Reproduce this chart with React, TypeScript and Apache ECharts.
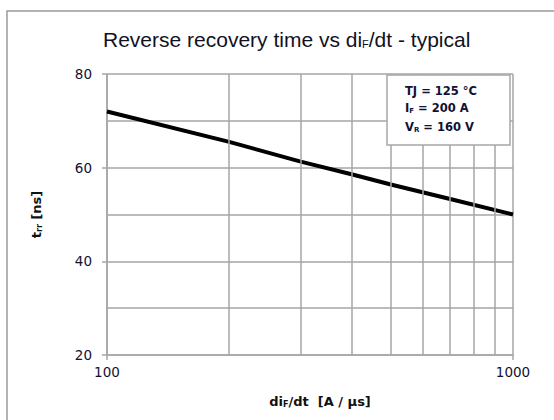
import React, { useEffect, useRef } from "react";
import * as echarts from "echarts";

const xValues = [100, 200, 300, 400, 500, 700, 1000];
const trrValues = [72, 65.5, 61.3, 58.6, 56.4, 53.3, 50];
const minorXGrid = [200, 300, 400, 500, 600, 700, 800, 900];
const xTickLabels = [100, 1000];
const yTickLabels = [20, 40, 60, 80];
const conditionLines = ["TJ = 125 °C", "I{s|F} = 200 A", "V{s|R} = 160 V"];

export default function App() {
  const ref = useRef<HTMLDivElement>(null);
  useEffect(() => {
    if (!ref.current) return;
    const chart = echarts.init(ref.current, null, { renderer: "svg" });
    const grey = "#a6a6a6";
    const font = "DejaVu Sans";
    chart.setOption({
      animation: false,
      backgroundColor: "#ffffff",
      title: {
        text: "Reverse recovery time vs di{s|F}/dt - typical",
        left: 98,
        top: 24,
        textStyle: {
          fontFamily: "Liberation Sans",
          fontSize: 21,
          fontWeight: "normal",
          color: "#111122",
          rich: {
            s: { fontFamily: "Liberation Sans", fontSize: 11, color: "#111122", padding: [9, 0, 0, 0] },
          },
        },
      },
      grid: { left: 107, right: 41, top: 74, bottom: 65, containLabel: false },
      xAxis: {
        type: "log",
        logBase: 10,
        min: 100,
        max: 1000,
        name: "di{s|F}/dt  [A / µs]",
        nameLocation: "middle",
        nameGap: 39,
        nameTextStyle: {
          fontFamily: font,
          fontSize: 13,
          fontWeight: "bold",
          color: "#111",
          padding: [0, 0, 0, 20],
          rich: { s: { fontFamily: font, fontSize: 8, fontWeight: "bold", color: "#111", padding: [6, 0, 0, 0] } },
        },
        axisLine: { show: true, lineStyle: { color: grey, width: 1.5 } },
        axisTick: { show: true, length: 5, lineStyle: { color: grey, width: 1.5 } },
        axisLabel: {
          margin: 10,
          fontFamily: font,
          fontSize: 13.5,
          color: "#111133",
          formatter: (v: number) => (xTickLabels.includes(Math.round(v)) ? String(Math.round(v)) : ""),
        },
        splitLine: { show: true, lineStyle: { color: grey, width: 1.5 } },
      },
      yAxis: {
        type: "value",
        min: 20,
        max: 80,
        interval: 20,
        name: "t{s|rr} [ns]",
        nameLocation: "middle",
        nameGap: 64,
        nameRotate: 90,
        nameTextStyle: {
          fontFamily: font,
          fontSize: 13,
          fontWeight: "bold",
          color: "#111",
          rich: { s: { fontFamily: font, fontSize: 8, fontWeight: "bold", color: "#111", padding: [6, 0, 0, 0] } },
        },
        axisLine: { show: true, lineStyle: { color: grey, width: 1.5 } },
        axisTick: { show: true, length: 5, lineStyle: { color: grey, width: 1.5 } },
        axisLabel: {
          margin: 15,
          fontFamily: font,
          fontSize: 13.5,
          color: "#111133",
          formatter: (v: number) => (yTickLabels.includes(v) ? String(v) : ""),
        },
        splitLine: { show: true, lineStyle: { color: grey, width: 1.5 } },
        minorTick: { show: false, splitNumber: 2 },
        minorSplitLine: { show: true, lineStyle: { color: grey, width: 1.5 } },
      },
      series: [
        {
          type: "line",
          data: [],
          z: 1,
          markLine: {
            silent: true,
            symbol: "none",
            label: { show: false },
            lineStyle: { color: grey, width: 1.5, type: "solid" },
            data: minorXGrid.map((v) => ({ xAxis: v })),
          },
        },
        {
          type: "line",
          z: 3,
          data: xValues.map((x, i) => [x, trrValues[i]]),
          symbol: "none",
          lineStyle: { color: "#000", width: 4 },
        },
      ],
      graphic: [
        {
          type: "rect",
          z: 0,
          silent: true,
          shape: { x: 7, y: 11, width: 700, height: 600 },
          style: { fill: "none", stroke: "#9a9a9a", lineWidth: 1.5 },
        },
        {
          type: "rect",
          z: 10,
          shape: { x: 387, y: 75, width: 123, height: 70 },
          style: { fill: "#fff", stroke: grey, lineWidth: 1.5 },
        },
        ...conditionLines.map((t, i) => ({
          type: "text",
          z: 11,
          x: 405,
          y: [91, 108, 127][i],
          style: {
            text: t,
            fontFamily: font,
            fontSize: 11.5,
            fontWeight: "bold",
            fill: "#111133",
            verticalAlign: "middle",
            rich: { s: { fontFamily: font, fontSize: 7, fontWeight: "bold", fill: "#111133", padding: [5, 0, 0, 0] } },
          },
        })),
      ],
    });
    return () => chart.dispose();
  }, []);
  return <div ref={ref} style={{ position: "absolute", left: 0, top: 0, width: 554, height: 420 }} />;
}
